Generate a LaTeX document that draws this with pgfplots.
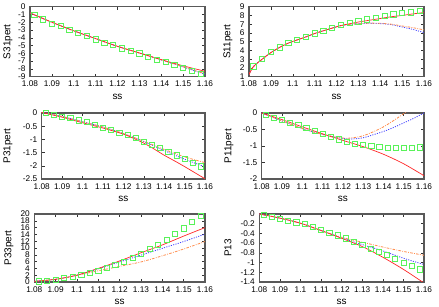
\documentclass[border=0pt]{standalone}
\usepackage{pgfplots}
\pgfplotsset{compat=1.18}
\usepackage{fontspec}
\setmainfont{Liberation Sans}
\definecolor{gpred}{rgb}{1,0.15,0.15}
\definecolor{gpblue}{rgb}{0.25,0.25,1}
\definecolor{gporange}{rgb}{1,0.55,0.3}
\definecolor{gpgreen}{rgb}{0.35,0.95,0.35}
\pgfplotsset{
  gp/.style={
    scale only axis, anchor=south west, clip=true,
    xmin=1.08, xmax=1.16,
    xtick={1.08,1.09,1.1,1.11,1.12,1.13,1.14,1.15,1.16},
    xticklabels={1.08,1.09,1.1,1.11,1.12,1.13,1.14,1.15,1.16},
    tick align=inside, major tick length=3bp,
    tick style={black!80, line width=0.5bp},
    axis line style={draw=black!65, line width=1.1bp},
    ticklabel style={font=\fontsize{8.3}{9}\selectfont},
    xticklabel style={yshift=-1bp},
    yticklabel style={xshift=-1bp},
    label style={font=\fontsize{8.3}{9}\selectfont},
    /pgf/number format/assume math mode=true,
    xlabel={ss},
    every axis x label/.style={at={([yshift=-20bp]axis description cs:0.5,0)},anchor=center},
    every axis y label/.style={at={([xshift=-\ylshift]axis description cs:0,0.5)},anchor=center,rotate=90},
  },
  redl/.style={gpred, line width=0.7bp, smooth, no marks},
  bluel/.style={gpblue, line width=0.8bp, smooth, no marks, dash pattern=on 1.1bp off 1.3bp},
  orl/.style={gporange, line width=0.8bp, smooth, no marks, dash pattern=on 2.6bp off 1.3bp on 0.8bp off 1.3bp},
  sq/.style={only marks, mark=square, mark size=2.6bp, gpgreen, mark options={line width=0.6bp}},
}
\newlength{\ylshift}
\begin{document}
\begin{tikzpicture}
\useasboundingbox (0bp,0bp) rectangle (439bp,307bp);
% ---------- S31pert
\setlength{\ylshift}{22bp}
\begin{axis}[gp, at={(30bp,230.3bp)}, width=175bp, height=70bp,
  ymin=-9, ymax=0, ytick={-9,-8,-7,-6,-5,-4,-3,-2,-1,0}, ylabel={S31pert}]
\addplot[bluel] coordinates {(1.08,-0.8)(1.09,-2.0)(1.10,-3.1)(1.11,-4.1)(1.12,-5.1)(1.13,-5.95)(1.14,-6.85)(1.15,-7.75)(1.16,-8.68)};
\addplot[orl] coordinates {(1.08,-0.8)(1.09,-2.0)(1.10,-3.1)(1.11,-4.1)(1.12,-5.1)(1.13,-5.95)(1.14,-6.83)(1.15,-7.72)(1.16,-8.62)};
\addplot[redl] coordinates {(1.08,-0.8)(1.09,-2.0)(1.10,-3.1)(1.11,-4.1)(1.12,-5.1)(1.13,-5.95)(1.14,-6.8)(1.15,-7.6)(1.16,-8.3)};
\addplot[sq] coordinates {(1.082,-1.07)(1.086,-1.63)(1.09,-2.15)(1.094,-2.5)(1.098,-2.96)(1.102,-3.35)(1.106,-3.78)(1.11,-4.2)(1.114,-4.6)(1.118,-4.94)(1.122,-5.36)(1.126,-5.7)(1.13,-6.0)(1.134,-6.44)(1.138,-6.78)(1.142,-7.12)(1.146,-7.5)(1.15,-7.85)(1.154,-8.28)(1.158,-8.63)};
\end{axis}
% ---------- S11pert
\setlength{\ylshift}{21bp}
\begin{axis}[gp, at={(249bp,230.3bp)}, width=175bp, height=70bp,
  ymin=1, ymax=9, ytick={1,2,3,4,5,6,7,8,9}, ylabel={S11pert}]
\addplot[bluel] coordinates {(1.08,1.24)(1.082,2.15)(1.086,3.0)(1.09,3.75)(1.094,4.35)(1.098,4.84)(1.102,5.2)(1.106,5.55)(1.11,5.93)(1.114,6.25)(1.118,6.55)(1.122,6.83)(1.126,6.97)(1.13,7.05)(1.135,7.1)(1.14,7.07)(1.145,6.95)(1.15,6.68)(1.155,6.4)(1.16,6.03)};
\addplot[orl] coordinates {(1.08,1.24)(1.082,2.15)(1.086,3.0)(1.09,3.75)(1.094,4.35)(1.098,4.84)(1.102,5.2)(1.106,5.55)(1.11,5.93)(1.114,6.25)(1.118,6.55)(1.122,6.83)(1.126,6.98)(1.13,7.07)(1.135,7.12)(1.14,7.1)(1.145,7.0)(1.15,6.8)(1.155,6.6)(1.16,6.35)};
\addplot[redl] coordinates {(1.08,1.24)(1.082,2.15)(1.086,3.0)(1.09,3.75)(1.094,4.35)(1.098,4.84)(1.102,5.2)(1.106,5.55)(1.11,5.93)(1.114,6.25)(1.118,6.55)(1.122,6.85)(1.126,7.05)(1.13,7.25)(1.135,7.45)(1.14,7.65)(1.145,7.85)(1.15,8.0)(1.155,8.18)(1.16,8.33)};
\addplot[sq] coordinates {(1.082,2.19)(1.086,3.06)(1.09,3.85)(1.094,4.37)(1.098,4.84)(1.102,5.2)(1.106,5.55)(1.11,5.95)(1.114,6.27)(1.118,6.58)(1.122,6.94)(1.126,7.14)(1.13,7.34)(1.134,7.57)(1.138,7.73)(1.142,7.97)(1.146,8.13)(1.15,8.29)(1.154,8.37)(1.158,8.52)};
\end{axis}
% ---------- P31pert
\setlength{\ylshift}{33.7bp}
\begin{axis}[gp, at={(41.7bp,128bp)}, width=163.3bp, height=66bp,
  ymin=-2.5, ymax=0, ytick={-2.5,-2,-1.5,-1,-0.5,0}, ylabel={P31pert}]
\addplot[bluel] coordinates {(1.08,0.02)(1.09,-0.13)(1.10,-0.33)(1.11,-0.53)(1.12,-0.78)(1.13,-1.08)(1.14,-1.42)(1.15,-1.75)(1.16,-2.04)};
\addplot[orl] coordinates {(1.08,0.02)(1.09,-0.13)(1.10,-0.33)(1.11,-0.53)(1.12,-0.78)(1.13,-1.07)(1.14,-1.38)(1.15,-1.66)(1.16,-1.88)};
\addplot[redl] coordinates {(1.08,0.02)(1.09,-0.16)(1.10,-0.37)(1.11,-0.57)(1.12,-0.8)(1.125,-0.96)(1.13,-1.14)(1.135,-1.36)(1.14,-1.6)(1.145,-1.81)(1.15,-2.03)(1.155,-2.26)(1.16,-2.49)};
\addplot[sq] coordinates {(1.082,0.0)(1.086,-0.06)(1.09,-0.14)(1.094,-0.19)(1.098,-0.28)(1.102,-0.34)(1.106,-0.46)(1.11,-0.55)(1.114,-0.65)(1.118,-0.74)(1.122,-0.82)(1.126,-0.95)(1.13,-1.08)(1.134,-1.21)(1.138,-1.33)(1.142,-1.48)(1.146,-1.6)(1.15,-1.73)(1.154,-1.88)(1.158,-2.02)};
\end{axis}
% ---------- P11pert
\setlength{\ylshift}{32.7bp}
\begin{axis}[gp, at={(261.7bp,128bp)}, width=162.3bp, height=66bp,
  ymin=-2, ymax=0, ytick={-2,-1.5,-1,-0.5,0}, ylabel={P11pert}]
\addplot[bluel] coordinates {(1.08,0)(1.09,-0.24)(1.10,-0.47)(1.11,-0.65)(1.12,-0.77)(1.125,-0.785)(1.13,-0.75)(1.135,-0.66)(1.14,-0.56)(1.145,-0.44)(1.15,-0.3)(1.155,-0.16)(1.16,0.0)};
\addplot[orl] coordinates {(1.08,0)(1.09,-0.24)(1.10,-0.47)(1.11,-0.65)(1.12,-0.76)(1.125,-0.75)(1.13,-0.69)(1.135,-0.57)(1.14,-0.42)(1.145,-0.23)(1.15,-0.02)(1.155,0.2)};
\addplot[redl] coordinates {(1.08,0)(1.09,-0.2)(1.10,-0.42)(1.11,-0.63)(1.12,-0.83)(1.13,-1.02)(1.14,-1.25)(1.15,-1.54)(1.16,-1.9)};
\addplot[sq] coordinates {(1.082,-0.05)(1.086,-0.14)(1.09,-0.21)(1.094,-0.29)(1.098,-0.36)(1.102,-0.45)(1.106,-0.55)(1.11,-0.64)(1.114,-0.73)(1.118,-0.8)(1.122,-0.88)(1.126,-0.93)(1.13,-0.96)(1.134,-0.99)(1.138,-1.03)(1.142,-1.05)(1.146,-1.06)(1.15,-1.06)(1.154,-1.06)(1.158,-1.04)};
\end{axis}
% ---------- P33pert
\setlength{\ylshift}{25.3bp}
\begin{axis}[gp, at={(34.3bp,25bp)}, width=170.7bp, height=68bp,
  ymin=0, ymax=20, ytick={0,2,4,6,8,10,12,14,16,18,20}, ylabel={P33pert}]
\addplot[bluel] coordinates {(1.08,0.2)(1.09,0.8)(1.10,2.0)(1.11,3.9)(1.12,5.9)(1.13,7.9)(1.14,9.9)(1.15,11.9)(1.16,14.1)};
\addplot[orl] coordinates {(1.08,0.2)(1.09,0.8)(1.10,2.0)(1.11,3.3)(1.12,4.6)(1.13,5.9)(1.14,7.7)(1.15,9.7)(1.16,11.9)};
\addplot[redl] coordinates {(1.08,0.2)(1.09,0.8)(1.10,2.0)(1.11,4.0)(1.12,6.2)(1.13,8.6)(1.14,10.9)(1.15,13.5)(1.16,16.0)};
\addplot[sq] coordinates {(1.082,0.2)(1.086,0.4)(1.09,0.7)(1.094,1.2)(1.098,1.6)(1.102,2.1)(1.106,2.7)(1.11,3.4)(1.114,4.2)(1.118,5.0)(1.122,6.0)(1.126,7.2)(1.13,8.4)(1.134,9.7)(1.138,11.0)(1.142,12.4)(1.146,14.2)(1.15,15.8)(1.154,17.7)(1.158,19.4)};
\end{axis}
% ---------- P13
\setlength{\ylshift}{31.3bp}
\begin{axis}[gp, at={(259.3bp,25bp)}, width=164.7bp, height=68bp,
  ymin=-1.4, ymax=0, ytick={-1.4,-1.2,-1,-0.8,-0.6,-0.4,-0.2,0}, ylabel={P13}]
\addplot[bluel] coordinates {(1.08,0)(1.09,-0.085)(1.10,-0.19)(1.11,-0.34)(1.12,-0.49)(1.13,-0.63)(1.14,-0.76)(1.15,-0.91)(1.16,-1.04)};
\addplot[orl] coordinates {(1.08,0)(1.09,-0.085)(1.10,-0.19)(1.11,-0.34)(1.12,-0.48)(1.13,-0.58)(1.14,-0.68)(1.15,-0.77)(1.16,-0.85)};
\addplot[redl] coordinates {(1.08,0)(1.09,-0.085)(1.10,-0.19)(1.11,-0.34)(1.12,-0.5)(1.13,-0.67)(1.14,-0.89)(1.15,-1.14)(1.16,-1.42)};
\addplot[sq] coordinates {(1.082,-0.01)(1.086,-0.05)(1.09,-0.1)(1.094,-0.14)(1.098,-0.17)(1.102,-0.21)(1.106,-0.27)(1.11,-0.33)(1.114,-0.39)(1.118,-0.44)(1.122,-0.5)(1.126,-0.58)(1.13,-0.64)(1.134,-0.71)(1.138,-0.78)(1.142,-0.84)(1.146,-0.92)(1.15,-1.0)(1.154,-1.06)(1.158,-1.14)};
\end{axis}
\end{tikzpicture}
\end{document}
